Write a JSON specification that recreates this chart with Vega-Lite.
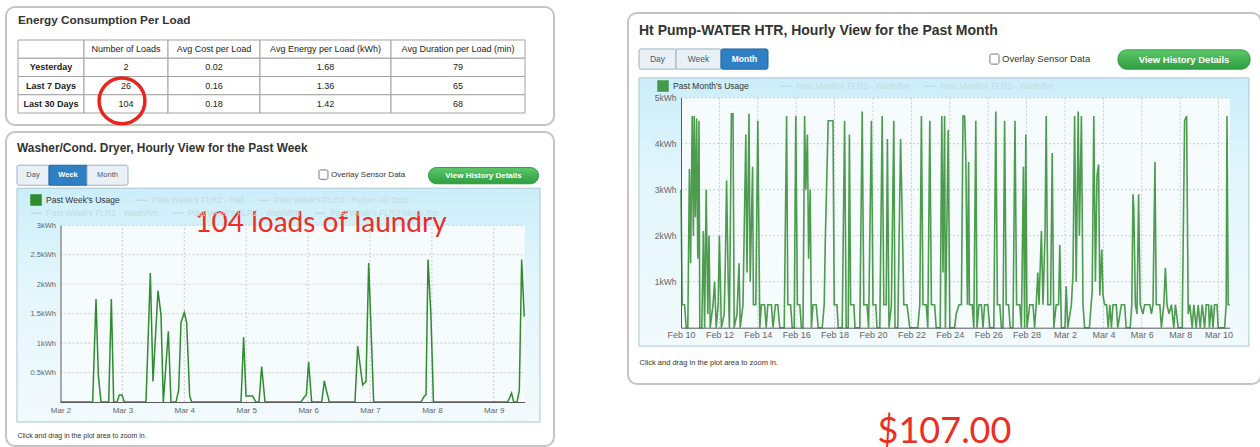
{
  "$schema": "https://vega.github.io/schema/vega-lite/v6.json",
  "padding": {"left": 5, "top": 6, "right": 0, "bottom": 0},
  "background": "white",
  "config": {
    "font": "Liberation Sans",
    "view": {"fill": "white", "stroke": "#c4c4c4", "strokeWidth": 2, "cornerRadius": 9},
    "axis": {"labelFont": "Liberation Sans", "ticks": false, "grid": false, "domainColor": "#5a5a5a", "labelColor": "#666666", "labelFlush": false},
    "legend": {"padding": 0, "labelFont": "Liberation Sans", "labelFontSize": 8.5, "symbolStrokeWidth": 1.5, "symbolSize": 110, "columnPadding": 10, "labelLimit": 300}
  },
  "resolve": {"scale": {"color": "independent", "strokeDash": "independent", "opacity": "independent"}, "legend": {"color": "independent", "strokeDash": "independent", "opacity": "independent"}},
  "spacing": 72,
  "hconcat": [
    {
      "spacing": -6,
      "resolve": {"scale": {"color": "independent", "strokeDash": "independent", "opacity": "independent"}, "legend": {"color": "independent", "strokeDash": "independent", "opacity": "independent"}},
      "vconcat": [
        {
          "width": 548,
          "height": 118,
          "title": {"text": "Energy Consumption Per Load", "anchor": "start", "frame": "group", "offset": -20, "dx": 12, "fontSize": 11.75, "fontWeight": "bold", "color": "#333333"},
          "data": {"values": [
            {"row": "h", "col": "c0", "text": ""},
            {"row": "h", "col": "c1", "text": "Number of Loads"},
            {"row": "h", "col": "c2", "text": "Avg Cost per Load"},
            {"row": "h", "col": "c3", "text": "Avg Energy per Load (kWh)"},
            {"row": "h", "col": "c4", "text": "Avg Duration per Load (min)"},
            {"row": "Yesterday", "col": "c0", "text": "Yesterday"},
            {"row": "Yesterday", "col": "c1", "text": "2"},
            {"row": "Yesterday", "col": "c2", "text": "0.02"},
            {"row": "Yesterday", "col": "c3", "text": "1.68"},
            {"row": "Yesterday", "col": "c4", "text": "79"},
            {"row": "Last 7 Days", "col": "c0", "text": "Last 7 Days"},
            {"row": "Last 7 Days", "col": "c1", "text": "26"},
            {"row": "Last 7 Days", "col": "c2", "text": "0.16"},
            {"row": "Last 7 Days", "col": "c3", "text": "1.36"},
            {"row": "Last 7 Days", "col": "c4", "text": "65"},
            {"row": "Last 30 Days", "col": "c0", "text": "Last 30 Days"},
            {"row": "Last 30 Days", "col": "c1", "text": "104"},
            {"row": "Last 30 Days", "col": "c2", "text": "0.18"},
            {"row": "Last 30 Days", "col": "c3", "text": "1.42"},
            {"row": "Last 30 Days", "col": "c4", "text": "68"}
          ]},
          "encoding": {
            "y": {"field": "row", "type": "nominal", "sort": ["h", "Yesterday", "Last 7 Days", "Last 30 Days"], "scale": {"range": [33, 106], "paddingInner": 0, "paddingOuter": 0}, "axis": null}
          },
          "layer": [
            {
              "transform": [{"filter": "datum.col == 'c0'"}],
              "encoding": {"x": {"field": "col", "type": "nominal", "scale": {"range": [12, 78], "paddingInner": 0, "paddingOuter": 0}, "axis": null}},
              "layer": [
                {"mark": {"type": "rect", "fill": "white", "stroke": "#a3a3a3", "strokeWidth": 1}},
                {"mark": {"type": "text", "fontSize": 9, "fontWeight": "bold", "color": "#222222"}, "encoding": {"text": {"field": "text"}}}
              ]
            },
            {
              "transform": [{"filter": "datum.col == 'c1'"}],
              "encoding": {"x": {"field": "col", "type": "nominal", "scale": {"range": [78, 162], "paddingInner": 0, "paddingOuter": 0}, "axis": null}},
              "layer": [
                {"mark": {"type": "rect", "fill": "white", "stroke": "#a3a3a3", "strokeWidth": 1}},
                {"mark": {"type": "text", "fontSize": 9, "color": "#222222"}, "encoding": {"text": {"field": "text"}}},
                {"transform": [{"filter": "datum.row == 'Last 30 Days'"}], "mark": {"type": "point", "shape": "circle", "size": 2100, "filled": false, "color": "#e8261f", "strokeWidth": 3.5, "opacity": 1, "xOffset": -4, "yOffset": -3}}
              ]
            },
            {
              "transform": [{"filter": "datum.col == 'c2'"}],
              "encoding": {"x": {"field": "col", "type": "nominal", "scale": {"range": [162, 254], "paddingInner": 0, "paddingOuter": 0}, "axis": null}},
              "layer": [
                {"mark": {"type": "rect", "fill": "white", "stroke": "#a3a3a3", "strokeWidth": 1}},
                {"mark": {"type": "text", "fontSize": 9, "color": "#222222"}, "encoding": {"text": {"field": "text"}}}
              ]
            },
            {
              "transform": [{"filter": "datum.col == 'c3'"}],
              "encoding": {"x": {"field": "col", "type": "nominal", "scale": {"range": [254, 385], "paddingInner": 0, "paddingOuter": 0}, "axis": null}},
              "layer": [
                {"mark": {"type": "rect", "fill": "white", "stroke": "#a3a3a3", "strokeWidth": 1}},
                {"mark": {"type": "text", "fontSize": 9, "color": "#222222"}, "encoding": {"text": {"field": "text"}}}
              ]
            },
            {
              "transform": [{"filter": "datum.col == 'c4'"}],
              "encoding": {"x": {"field": "col", "type": "nominal", "scale": {"range": [385, 519], "paddingInner": 0, "paddingOuter": 0}, "axis": null}},
              "layer": [
                {"mark": {"type": "rect", "fill": "white", "stroke": "#a3a3a3", "strokeWidth": 1}},
                {"mark": {"type": "text", "fontSize": 9, "color": "#222222"}, "encoding": {"text": {"field": "text"}}}
              ]
            }
          ],
          "resolve": {"scale": {"x": "independent"}}
        },
        {
          "width": 548,
          "height": 314,
          "title": {"text": "Washer/Cond. Dryer, Hourly View for the Past Week", "anchor": "start", "frame": "group", "offset": -23, "dx": 11, "fontSize": 11.9, "fontWeight": "bold", "color": "#333333"},
          "layer": [
            {
              "data": {"values": [{}]},
              "mark": {"type": "rect", "stroke": "#a9c7d0", "strokeWidth": 1, "fill": {"gradient": "linear", "x1": 0, "y1": 0, "x2": 0, "y2": 1, "stops": [{"offset": 0, "color": "#cbeefa"}, {"offset": 0.4, "color": "#e3f6fc"}, {"offset": 1, "color": "#f2fafd"}]}},
              "encoding": {
                "x": {"datum": {"year": 2011, "month": 3, "date": 1, "hours": 7, "minutes": 8}, "type": "temporal"},
                "x2": {"datum": {"year": 2011, "month": 3, "date": 9, "hours": 17, "minutes": 54}},
                "y": {"datum": 3.63, "type": "quantitative"},
                "y2": {"datum": -0.34}
              }
            },
            {
              "data": {"values": [{}]},
              "mark": {"type": "rect", "fill": "#f6fbfe"},
              "encoding": {
                "x": {"datum": {"year": 2011, "month": 3, "date": 2}, "type": "temporal"},
                "x2": {"datum": {"year": 2011, "month": 3, "date": 9, "hours": 12}},
                "y": {"datum": 0, "type": "quantitative"},
                "y2": {"datum": 3}
              }
            },
            {
              "data": {"values": [{"d": "2011-03-03T00:00"}, {"d": "2011-03-04T00:00"}, {"d": "2011-03-05T00:00"}, {"d": "2011-03-06T00:00"}, {"d": "2011-03-07T00:00"}, {"d": "2011-03-08T00:00"}, {"d": "2011-03-09T00:00"}]},
              "mark": {"type": "rule", "color": "#c9cdd0", "strokeWidth": 1, "strokeDash": [2, 2]},
              "encoding": {
                "x": {"field": "d", "type": "temporal"},
                "y": {"datum": 0, "type": "quantitative"},
                "y2": {"datum": 3}
              }
            },
            {
              "data": {"values": [{"k": 0.5}, {"k": 1}, {"k": 1.5}, {"k": 2}, {"k": 2.5}, {"k": 3}]},
              "mark": {"type": "rule", "color": "#c9cdd0", "strokeWidth": 1, "strokeDash": [2, 2]},
              "encoding": {
                "y": {"field": "k", "type": "quantitative"},
                "x": {"datum": {"year": 2011, "month": 3, "date": 2}, "type": "temporal"},
                "x2": {"datum": {"year": 2011, "month": 3, "date": 9, "hours": 12}}
              }
            },
            {
              "data": {"values": [{}]},
              "mark": {"type": "rect", "fill": "#e9f1f7", "stroke": "#9ab3c5", "strokeWidth": 1, "cornerRadius": 2},
              "encoding": {
                "x": {"datum": {"year": 2011, "month": 3, "date": 1, "hours": 7, "minutes": 8}, "type": "temporal"},
                "x2": {"datum": {"year": 2011, "month": 3, "date": 1, "hours": 19, "minutes": 32}},
                "y": {"datum": 4.02, "type": "quantitative"},
                "y2": {"datum": 3.68}
              }
            },
            {
              "data": {"values": [{}]},
              "mark": {"type": "rect", "fill": "#2f7fc4", "stroke": "#23669f", "strokeWidth": 1},
              "encoding": {
                "x": {"datum": {"year": 2011, "month": 3, "date": 1, "hours": 19, "minutes": 32}, "type": "temporal"},
                "x2": {"datum": {"year": 2011, "month": 3, "date": 2, "hours": 10, "minutes": 16}},
                "y": {"datum": 4.02, "type": "quantitative"},
                "y2": {"datum": 3.68}
              }
            },
            {
              "data": {"values": [{}]},
              "mark": {"type": "rect", "fill": "#e9f1f7", "stroke": "#9ab3c5", "strokeWidth": 1, "cornerRadius": 2},
              "encoding": {
                "x": {"datum": {"year": 2011, "month": 3, "date": 2, "hours": 10, "minutes": 16}, "type": "temporal"},
                "x2": {"datum": {"year": 2011, "month": 3, "date": 3, "hours": 2, "minutes": 10}},
                "y": {"datum": 4.02, "type": "quantitative"},
                "y2": {"datum": 3.68}
              }
            },
            {
              "data": {"values": [{}]},
              "mark": {"type": "text", "fontSize": 7.5, "color": "#4a5a66", "align": "center", "baseline": "middle"},
              "encoding": {"x": {"datum": {"year": 2011, "month": 3, "date": 1, "hours": 13, "minutes": 20}, "type": "temporal"}, "y": {"datum": 3.85, "type": "quantitative"}, "text": {"value": "Day"}}
            },
            {
              "data": {"values": [{}]},
              "mark": {"type": "text", "fontSize": 7.5, "fontWeight": "bold", "color": "white", "align": "center", "baseline": "middle"},
              "encoding": {"x": {"datum": {"year": 2011, "month": 3, "date": 2, "hours": 2, "minutes": 54}, "type": "temporal"}, "y": {"datum": 3.85, "type": "quantitative"}, "text": {"value": "Week"}}
            },
            {
              "data": {"values": [{}]},
              "mark": {"type": "text", "fontSize": 7.5, "color": "#4a5a66", "align": "center", "baseline": "middle"},
              "encoding": {"x": {"datum": {"year": 2011, "month": 3, "date": 2, "hours": 18, "minutes": 13}, "type": "temporal"}, "y": {"datum": 3.85, "type": "quantitative"}, "text": {"value": "Month"}}
            },
            {
              "data": {"values": [{}]},
              "mark": {"type": "rect", "fill": "white", "stroke": "#777777", "strokeWidth": 1, "cornerRadius": 1.5},
              "encoding": {
                "x": {"datum": {"year": 2011, "month": 3, "date": 6, "hours": 4, "minutes": 13}, "type": "temporal"},
                "x2": {"datum": {"year": 2011, "month": 3, "date": 6, "hours": 7, "minutes": 42}},
                "y": {"datum": 3.94, "type": "quantitative"},
                "y2": {"datum": 3.78}
              }
            },
            {
              "data": {"values": [{}]},
              "mark": {"type": "text", "fontSize": 8, "color": "#333333", "align": "left", "baseline": "middle"},
              "encoding": {"x": {"datum": {"year": 2011, "month": 3, "date": 6, "hours": 8, "minutes": 53}, "type": "temporal"}, "y": {"datum": 3.86, "type": "quantitative"}, "text": {"value": "Overlay Sensor Data"}}
            },
            {
              "data": {"values": [{}]},
              "mark": {"type": "rect", "stroke": "#2f9a3e", "strokeWidth": 1, "cornerRadius": 8, "fill": {"gradient": "linear", "x1": 0, "y1": 0, "x2": 0, "y2": 1, "stops": [{"offset": 0, "color": "#5cc86a"}, {"offset": 1, "color": "#2e9e3f"}]}},
              "encoding": {
                "x": {"datum": {"year": 2011, "month": 3, "date": 7, "hours": 22, "minutes": 41}, "type": "temporal"},
                "x2": {"datum": {"year": 2011, "month": 3, "date": 9, "hours": 17, "minutes": 20}},
                "y": {"datum": 3.98, "type": "quantitative"},
                "y2": {"datum": 3.705}
              }
            },
            {
              "data": {"values": [{}]},
              "mark": {"type": "text", "fontSize": 8, "fontWeight": "bold", "color": "white", "align": "center", "baseline": "middle"},
              "encoding": {"x": {"datum": {"year": 2011, "month": 3, "date": 8, "hours": 20}, "type": "temporal"}, "y": {"datum": 3.845, "type": "quantitative"}, "text": {"value": "View History Details"}}
            },
            {
              "data": {"values": [{}]},
              "mark": {"type": "line", "color": "#c5dae0"},
              "encoding": {
                "x": {"datum": {"year": 2011, "month": 3, "date": 2}, "type": "temporal"},
                "y": {"datum": 0, "type": "quantitative"},
                "strokeDash": {
                  "datum": "Past Week's FLR2 - Hall", "type": "nominal",
                  "scale": {"domain": ["Past Week's FLR2 - Hall", "Past Week's FLR3 - Return Air Duct"], "range": [[1, 0], [1, 0]]},
                  "legend": {"orient": "none", "legendX": 130, "legendY": 62, "direction": "horizontal", "columns": 2, "title": null, "labelColor": "#c5dae0", "symbolType": "stroke", "symbolStrokeColor": "#c5dae0"}
                }
              }
            },
            {
              "data": {"values": [{}]},
              "mark": {"type": "line", "color": "#c5dae0"},
              "encoding": {
                "x": {"datum": {"year": 2011, "month": 3, "date": 2}, "type": "temporal"},
                "y": {"datum": 0, "type": "quantitative"},
                "opacity": {
                  "datum": "Past Week's FLR2 - WashRm", "type": "nominal",
                  "scale": {"domain": ["Past Week's FLR2 - WashRm", "Past Week's FLR2 - WashRm ", "Past Week's FLR3-Mech Rm"], "range": [1, 1]},
                  "legend": {"orient": "none", "legendX": 24, "legendY": 75, "direction": "horizontal", "columns": 3, "title": null, "labelColor": "#c5dae0", "symbolType": "stroke", "symbolStrokeColor": "#c5dae0"}
                }
              }
            },
            {
              "data": {"values": [
                {"time": "2011-03-02T00:00", "kWh": 0},
                {"time": "2011-03-02T12:28", "kWh": 0},
                {"time": "2011-03-02T13:46", "kWh": 1.75},
                {"time": "2011-03-02T14:40", "kWh": 0.46},
                {"time": "2011-03-02T15:42", "kWh": 0},
                {"time": "2011-03-02T18:41", "kWh": 0},
                {"time": "2011-03-02T19:43", "kWh": 1.75},
                {"time": "2011-03-02T20:37", "kWh": 0},
                {"time": "2011-03-02T21:54", "kWh": 0},
                {"time": "2011-03-02T22:48", "kWh": 0.12},
                {"time": "2011-03-02T23:50", "kWh": 0.12},
                {"time": "2011-03-03T00:45", "kWh": 0},
                {"time": "2011-03-03T09:09", "kWh": 0},
                {"time": "2011-03-03T10:50", "kWh": 2.19},
                {"time": "2011-03-03T11:52", "kWh": 0.35},
                {"time": "2011-03-03T13:48", "kWh": 1.89},
                {"time": "2011-03-03T14:58", "kWh": 1.48},
                {"time": "2011-03-03T15:52", "kWh": 0},
                {"time": "2011-03-03T17:49", "kWh": 1.2},
                {"time": "2011-03-03T18:50", "kWh": 0},
                {"time": "2011-03-03T20:47", "kWh": 0},
                {"time": "2011-03-03T21:49", "kWh": 0.2},
                {"time": "2011-03-03T22:43", "kWh": 1.35},
                {"time": "2011-03-04T00:00", "kWh": 1.52},
                {"time": "2011-03-04T00:55", "kWh": 1.35},
                {"time": "2011-03-04T02:05", "kWh": 0.1},
                {"time": "2011-03-04T02:52", "kWh": 0},
                {"time": "2011-03-04T21:59", "kWh": 0},
                {"time": "2011-03-04T23:00", "kWh": 1.1},
                {"time": "2011-03-04T23:55", "kWh": 0.1},
                {"time": "2011-03-05T02:30", "kWh": 0.1},
                {"time": "2011-03-05T03:48", "kWh": 0},
                {"time": "2011-03-05T04:58", "kWh": 0},
                {"time": "2011-03-05T06:00", "kWh": 0.6},
                {"time": "2011-03-05T07:17", "kWh": 0},
                {"time": "2011-03-05T21:15", "kWh": 0},
                {"time": "2011-03-05T22:30", "kWh": 0.08},
                {"time": "2011-03-05T23:18", "kWh": 0.12},
                {"time": "2011-03-06T00:12", "kWh": 0.68},
                {"time": "2011-03-06T01:23", "kWh": 0},
                {"time": "2011-03-06T05:16", "kWh": 0},
                {"time": "2011-03-06T06:17", "kWh": 0.36},
                {"time": "2011-03-06T07:04", "kWh": 0.2},
                {"time": "2011-03-06T08:14", "kWh": 0},
                {"time": "2011-03-06T18:11", "kWh": 0},
                {"time": "2011-03-06T19:13", "kWh": 0.95},
                {"time": "2011-03-06T21:09", "kWh": 0.29},
                {"time": "2011-03-06T22:27", "kWh": 0.35},
                {"time": "2011-03-06T23:29", "kWh": 2.36},
                {"time": "2011-03-07T01:25", "kWh": 0},
                {"time": "2011-03-07T19:46", "kWh": 0},
                {"time": "2011-03-07T21:04", "kWh": 0.1},
                {"time": "2011-03-07T21:42", "kWh": 0.12},
                {"time": "2011-03-07T22:30", "kWh": 2.42},
                {"time": "2011-03-07T23:36", "kWh": 1.5},
                {"time": "2011-03-08T00:36", "kWh": 0},
                {"time": "2011-03-09T05:24", "kWh": 0},
                {"time": "2011-03-09T06:54", "kWh": 0.15},
                {"time": "2011-03-09T07:42", "kWh": 0},
                {"time": "2011-03-09T09:00", "kWh": 0},
                {"time": "2011-03-09T09:54", "kWh": 0.2},
                {"time": "2011-03-09T10:48", "kWh": 2.42},
                {"time": "2011-03-09T11:48", "kWh": 1.45}
              ]},
              "mark": {"type": "line", "strokeWidth": 1.5},
              "encoding": {
                "x": {
                  "field": "time", "type": "temporal",
                  "scale": {"domain": [{"year": 2011, "month": 3, "date": 2}, {"year": 2011, "month": 3, "date": 9, "hours": 12}], "range": [54.5, 518.75]},
                  "axis": {
                    "orient": "bottom", "offset": -44, "zindex": 1, "labelFlush": false,
                    "values": [{"year": 2011, "month": 3, "date": 2}, {"year": 2011, "month": 3, "date": 3}, {"year": 2011, "month": 3, "date": 4}, {"year": 2011, "month": 3, "date": 5}, {"year": 2011, "month": 3, "date": 6}, {"year": 2011, "month": 3, "date": 7}, {"year": 2011, "month": 3, "date": 8}, {"year": 2011, "month": 3, "date": 9}],
                    "format": "%b %-d", "labelFontSize": 8, "labelPadding": 4,
                    "title": "Click and drag in the plot area to zoom in.", "titleX": 11, "titleY": 33, "titleAlign": "left", "titleBaseline": "middle", "titleFontSize": 7, "titleFontWeight": "normal", "titleColor": "#333333"
                  }
                },
                "y": {
                  "field": "kWh", "type": "quantitative",
                  "scale": {"domain": [0, 3], "range": [270, 93.3]},
                  "axis": {"orient": "left", "offset": -54.5, "zindex": 1, "values": [0, 0.5, 1, 1.5, 2, 2.5, 3], "format": "~g", "labelExpr": "datum.value == 0 ? '' : datum.label + 'kWh'", "labelFontSize": 7.5, "labelPadding": 5, "title": null}
                },
                "color": {
                  "datum": "Past Week's Usage", "type": "nominal",
                  "scale": {"domain": ["Past Week's Usage"], "range": ["#2e8b2e"]},
                  "legend": {"orient": "none", "legendX": 24, "legendY": 62, "title": null, "labelColor": "#333333", "symbolType": "square", "symbolFillColor": "#2e8b2e", "symbolStrokeColor": "#2e8b2e", "symbolSize": 100}
                }
              }
            },
            {
              "data": {"values": [{}]},
              "mark": {"type": "text", "font": "Lato", "fontSize": 28, "color": "#ee2d24", "align": "center", "baseline": "alphabetic"},
              "encoding": {
                "x": {"datum": {"year": 2011, "month": 3, "date": 6, "hours": 5}, "type": "temporal"},
                "y": {"datum": 2.88, "type": "quantitative"},
                "text": {"value": "104 loads of laundry"}
              }
            }
          ]
        }
      ]
    },
    {
      "spacing": 3,
      "resolve": {"scale": {"color": "independent", "strokeDash": "independent", "opacity": "independent"}, "legend": {"color": "independent", "strokeDash": "independent", "opacity": "independent"}},
      "title": {"text": "$107.00", "orient": "bottom", "anchor": "middle", "font": "Lato", "fontSize": 36, "fontWeight": "normal", "color": "#ee2d24", "offset": 30},
      "vconcat": [
        {
          "width": 633,
          "height": 1,
          "view": {"stroke": "transparent", "fill": "transparent"},
          "data": {"values": [{}]},
          "mark": {"type": "rect", "opacity": 0}
        },
        {
          "width": 633,
          "height": 371,
          "title": {"text": "Ht Pump-WATER HTR, Hourly View for the Past Month", "anchor": "start", "frame": "group", "offset": -25, "dx": 11, "fontSize": 14, "fontWeight": "bold", "color": "#333333"},
          "layer": [
            {
              "data": {"values": [{}]},
              "mark": {"type": "rect", "stroke": "#a9c7d0", "strokeWidth": 1, "fill": {"gradient": "linear", "x1": 0, "y1": 0, "x2": 0, "y2": 1, "stops": [{"offset": 0, "color": "#cbeefa"}, {"offset": 0.4, "color": "#e3f6fc"}, {"offset": 1, "color": "#f2fafd"}]}},
              "encoding": {
                "x": {"datum": {"year": 2011, "month": 2, "date": 7, "hours": 19, "minutes": 26}, "type": "temporal"},
                "x2": {"datum": {"year": 2011, "month": 3, "date": 11, "hours": 13, "minutes": 55}},
                "y": {"datum": 5.43, "type": "quantitative"},
                "y2": {"datum": -0.4}
              }
            },
            {
              "data": {"values": [{}]},
              "mark": {"type": "rect", "fill": "#f6fbfe"},
              "encoding": {
                "x": {"datum": {"year": 2011, "month": 2, "date": 10}, "type": "temporal"},
                "x2": {"datum": {"year": 2011, "month": 3, "date": 10, "hours": 14}},
                "y": {"datum": 0, "type": "quantitative"},
                "y2": {"datum": 5}
              }
            },
            {
              "data": {"values": [{"d": "2011-02-12T00:00"}, {"d": "2011-02-14T00:00"}, {"d": "2011-02-16T00:00"}, {"d": "2011-02-18T00:00"}, {"d": "2011-02-20T00:00"}, {"d": "2011-02-22T00:00"}, {"d": "2011-02-24T00:00"}, {"d": "2011-02-26T00:00"}, {"d": "2011-02-28T00:00"}, {"d": "2011-03-02T00:00"}, {"d": "2011-03-04T00:00"}, {"d": "2011-03-06T00:00"}, {"d": "2011-03-08T00:00"}, {"d": "2011-03-10T00:00"}]},
              "mark": {"type": "rule", "color": "#c9cdd0", "strokeWidth": 1, "strokeDash": [2, 2]},
              "encoding": {
                "x": {"field": "d", "type": "temporal"},
                "y": {"datum": 0, "type": "quantitative"},
                "y2": {"datum": 5}
              }
            },
            {
              "data": {"values": [{"k": 1}, {"k": 2}, {"k": 3}, {"k": 4}, {"k": 5}]},
              "mark": {"type": "rule", "color": "#c9cdd0", "strokeWidth": 1, "strokeDash": [2, 2]},
              "encoding": {
                "y": {"field": "k", "type": "quantitative"},
                "x": {"datum": {"year": 2011, "month": 2, "date": 10}, "type": "temporal"},
                "x2": {"datum": {"year": 2011, "month": 3, "date": 10, "hours": 14}}
              }
            },
            {
              "data": {"values": [{}]},
              "mark": {"type": "rect", "fill": "#e9f1f7", "stroke": "#9ab3c5", "strokeWidth": 1, "cornerRadius": 2},
              "encoding": {
                "x": {"datum": {"year": 2011, "month": 2, "date": 7, "hours": 19, "minutes": 30}, "type": "temporal"},
                "x2": {"datum": {"year": 2011, "month": 2, "date": 9, "hours": 17, "minutes": 45}},
                "y": {"datum": 6.06, "type": "quantitative"},
                "y2": {"datum": 5.62}
              }
            },
            {
              "data": {"values": [{}]},
              "mark": {"type": "rect", "fill": "#e9f1f7", "stroke": "#9ab3c5", "strokeWidth": 1},
              "encoding": {
                "x": {"datum": {"year": 2011, "month": 2, "date": 9, "hours": 17, "minutes": 45}, "type": "temporal"},
                "x2": {"datum": {"year": 2011, "month": 2, "date": 12, "hours": 2}},
                "y": {"datum": 6.06, "type": "quantitative"},
                "y2": {"datum": 5.62}
              }
            },
            {
              "data": {"values": [{}]},
              "mark": {"type": "rect", "fill": "#2f7fc4", "stroke": "#23669f", "strokeWidth": 1, "cornerRadius": 2},
              "encoding": {
                "x": {"datum": {"year": 2011, "month": 2, "date": 12, "hours": 2}, "type": "temporal"},
                "x2": {"datum": {"year": 2011, "month": 2, "date": 14, "hours": 12, "minutes": 45}},
                "y": {"datum": 6.06, "type": "quantitative"},
                "y2": {"datum": 5.62}
              }
            },
            {
              "data": {"values": [{}]},
              "mark": {"type": "text", "fontSize": 8.5, "color": "#4a5a66", "align": "center", "baseline": "middle"},
              "encoding": {"x": {"datum": {"year": 2011, "month": 2, "date": 8, "hours": 18, "minutes": 40}, "type": "temporal"}, "y": {"datum": 5.84, "type": "quantitative"}, "text": {"value": "Day"}}
            },
            {
              "data": {"values": [{}]},
              "mark": {"type": "text", "fontSize": 8.5, "color": "#4a5a66", "align": "center", "baseline": "middle"},
              "encoding": {"x": {"datum": {"year": 2011, "month": 2, "date": 10, "hours": 21, "minutes": 50}, "type": "temporal"}, "y": {"datum": 5.84, "type": "quantitative"}, "text": {"value": "Week"}}
            },
            {
              "data": {"values": [{}]},
              "mark": {"type": "text", "fontSize": 8.5, "fontWeight": "bold", "color": "white", "align": "center", "baseline": "middle"},
              "encoding": {"x": {"datum": {"year": 2011, "month": 2, "date": 13, "hours": 7, "minutes": 25}, "type": "temporal"}, "y": {"datum": 5.84, "type": "quantitative"}, "text": {"value": "Month"}}
            },
            {
              "data": {"values": [{}]},
              "mark": {"type": "rect", "fill": "white", "stroke": "#777777", "strokeWidth": 1, "cornerRadius": 1.5},
              "encoding": {
                "x": {"datum": {"year": 2011, "month": 2, "date": 26, "hours": 2, "minutes": 10}, "type": "temporal"},
                "x2": {"datum": {"year": 2011, "month": 2, "date": 26, "hours": 13, "minutes": 30}},
                "y": {"datum": 5.95, "type": "quantitative"},
                "y2": {"datum": 5.73}
              }
            },
            {
              "data": {"values": [{}]},
              "mark": {"type": "text", "fontSize": 9.5, "color": "#333333", "align": "left", "baseline": "middle"},
              "encoding": {"x": {"datum": {"year": 2011, "month": 2, "date": 26, "hours": 17, "minutes": 15}, "type": "temporal"}, "y": {"datum": 5.84, "type": "quantitative"}, "text": {"value": "Overlay Sensor Data"}}
            },
            {
              "data": {"values": [{}]},
              "mark": {"type": "rect", "stroke": "#2f9a3e", "strokeWidth": 1, "cornerRadius": 9, "fill": {"gradient": "linear", "x1": 0, "y1": 0, "x2": 0, "y2": 1, "stops": [{"offset": 0, "color": "#5cc86a"}, {"offset": 1, "color": "#2e9e3f"}]}},
              "encoding": {
                "x": {"datum": {"year": 2011, "month": 3, "date": 4, "hours": 18, "minutes": 15}, "type": "temporal"},
                "x2": {"datum": {"year": 2011, "month": 3, "date": 11, "hours": 15, "minutes": 20}},
                "y": {"datum": 6.04, "type": "quantitative"},
                "y2": {"datum": 5.62}
              }
            },
            {
              "data": {"values": [{}]},
              "mark": {"type": "text", "fontSize": 9.5, "fontWeight": "bold", "color": "white", "align": "center", "baseline": "middle"},
              "encoding": {"x": {"datum": {"year": 2011, "month": 3, "date": 8, "hours": 4, "minutes": 50}, "type": "temporal"}, "y": {"datum": 5.83, "type": "quantitative"}, "text": {"value": "View History Details"}}
            },
            {
              "data": {"values": [{}]},
              "mark": {"type": "line", "color": "#c5dae0"},
              "encoding": {
                "x": {"datum": {"year": 2011, "month": 2, "date": 10}, "type": "temporal"},
                "y": {"datum": 0, "type": "quantitative"},
                "strokeDash": {
                  "datum": "Past Month's FLR2 - WashRm", "type": "nominal",
                  "scale": {"domain": ["Past Month's FLR2 - WashRm", "Past Month's FLR2 - WashRm "], "range": [[1, 0], [1, 0]]},
                  "legend": {"orient": "none", "legendX": 152, "legendY": 67, "direction": "horizontal", "columns": 2, "title": null, "labelColor": "#c5dae0", "symbolType": "stroke", "symbolStrokeColor": "#c5dae0"}
                }
              }
            },
            {
              "data": {"values": [
                {"t": "2011-02-10T00:00", "v": 3.0}, {"t": "2011-02-10T01:30", "v": 0.5}, {"t": "2011-02-10T04:30", "v": 0.5}, {"t": "2011-02-10T06:30", "v": 0}, {"t": "2011-02-10T08:30", "v": 0}, {"t": "2011-02-10T10:30", "v": 3.45}, {"t": "2011-02-10T12:00", "v": 1.4}, {"t": "2011-02-10T14:00", "v": 4.6}, {"t": "2011-02-10T15:30", "v": 2.0}, {"t": "2011-02-10T16:30", "v": 4.6}, {"t": "2011-02-10T18:00", "v": 2.4}, {"t": "2011-02-10T19:30", "v": 4.55}, {"t": "2011-02-10T21:00", "v": 1.5}, {"t": "2011-02-10T22:30", "v": 4.5}, {"t": "2011-02-10T23:30", "v": 0},
                {"t": "2011-02-11T02:00", "v": 0}, {"t": "2011-02-11T04:00", "v": 2.1}, {"t": "2011-02-11T05:30", "v": 0}, {"t": "2011-02-11T07:30", "v": 3.0}, {"t": "2011-02-11T09:30", "v": 0.3}, {"t": "2011-02-11T11:00", "v": 2.0}, {"t": "2011-02-11T12:30", "v": 0}, {"t": "2011-02-11T16:00", "v": 0.5}, {"t": "2011-02-11T18:00", "v": 1.0}, {"t": "2011-02-11T20:00", "v": 0}, {"t": "2011-02-11T22:30", "v": 0.5},
                {"t": "2011-02-12T00:00", "v": 2.0}, {"t": "2011-02-12T02:30", "v": 0}, {"t": "2011-02-12T06:00", "v": 0.3}, {"t": "2011-02-12T07:30", "v": 1.5}, {"t": "2011-02-12T09:00", "v": 3.2}, {"t": "2011-02-12T11:00", "v": 1.0}, {"t": "2011-02-12T12:30", "v": 0}, {"t": "2011-02-12T15:00", "v": 4.65}, {"t": "2011-02-12T17:00", "v": 4.65}, {"t": "2011-02-12T18:30", "v": 0}, {"t": "2011-02-12T22:00", "v": 0.3},
                {"t": "2011-02-13T00:30", "v": 1.4}, {"t": "2011-02-13T02:00", "v": 0}, {"t": "2011-02-13T05:30", "v": 0.5}, {"t": "2011-02-13T09:00", "v": 4.2}, {"t": "2011-02-13T10:30", "v": 1.2}, {"t": "2011-02-13T13:00", "v": 4.65}, {"t": "2011-02-13T14:30", "v": 1.0}, {"t": "2011-02-13T17:30", "v": 3.5}, {"t": "2011-02-13T18:30", "v": 0.5}, {"t": "2011-02-13T21:30", "v": 0.5},
                {"t": "2011-02-14T00:00", "v": 4.5}, {"t": "2011-02-14T02:30", "v": 0}, {"t": "2011-02-14T04:30", "v": 0.5}, {"t": "2011-02-14T08:30", "v": 0.5}, {"t": "2011-02-14T10:30", "v": 0}, {"t": "2011-02-14T12:30", "v": 0.5}, {"t": "2011-02-14T17:00", "v": 0.5}, {"t": "2011-02-14T19:00", "v": 0}, {"t": "2011-02-14T22:00", "v": 0.5},
                {"t": "2011-02-15T01:00", "v": 0.5}, {"t": "2011-02-15T03:30", "v": 0}, {"t": "2011-02-15T09:00", "v": 0}, {"t": "2011-02-15T12:00", "v": 4.6}, {"t": "2011-02-15T13:30", "v": 0.5}, {"t": "2011-02-15T17:00", "v": 0.5}, {"t": "2011-02-15T19:00", "v": 0}, {"t": "2011-02-15T21:30", "v": 0}, {"t": "2011-02-15T23:30", "v": 4.6},
                {"t": "2011-02-16T01:30", "v": 0.5}, {"t": "2011-02-16T04:30", "v": 0.5}, {"t": "2011-02-16T06:30", "v": 0}, {"t": "2011-02-16T08:30", "v": 0}, {"t": "2011-02-16T10:30", "v": 4.6}, {"t": "2011-02-16T12:00", "v": 3.0}, {"t": "2011-02-16T14:00", "v": 4.2}, {"t": "2011-02-16T15:30", "v": 1.5}, {"t": "2011-02-16T17:30", "v": 3.0}, {"t": "2011-02-16T19:00", "v": 0}, {"t": "2011-02-16T21:00", "v": 0.5},
                {"t": "2011-02-17T01:00", "v": 0.5}, {"t": "2011-02-17T03:30", "v": 0}, {"t": "2011-02-17T08:30", "v": 0}, {"t": "2011-02-17T11:00", "v": 0.5}, {"t": "2011-02-17T12:30", "v": 2.0}, {"t": "2011-02-17T16:00", "v": 4.5}, {"t": "2011-02-17T22:00", "v": 4.5}, {"t": "2011-02-17T23:30", "v": 0.5},
                {"t": "2011-02-18T03:00", "v": 0.5}, {"t": "2011-02-18T04:30", "v": 0}, {"t": "2011-02-18T09:30", "v": 0}, {"t": "2011-02-18T12:30", "v": 4.5}, {"t": "2011-02-18T14:30", "v": 0}, {"t": "2011-02-18T17:00", "v": 0}, {"t": "2011-02-18T18:30", "v": 4.2}, {"t": "2011-02-18T20:00", "v": 0.5},
                {"t": "2011-02-19T00:00", "v": 0.5}, {"t": "2011-02-19T01:30", "v": 0}, {"t": "2011-02-19T07:30", "v": 0}, {"t": "2011-02-19T10:30", "v": 4.7}, {"t": "2011-02-19T12:30", "v": 0.5}, {"t": "2011-02-19T16:30", "v": 0.5}, {"t": "2011-02-19T18:30", "v": 0}, {"t": "2011-02-19T22:00", "v": 4.5},
                {"t": "2011-02-20T00:00", "v": 0.5}, {"t": "2011-02-20T03:30", "v": 0.5}, {"t": "2011-02-20T05:00", "v": 0}, {"t": "2011-02-20T08:30", "v": 0}, {"t": "2011-02-20T11:30", "v": 4.6}, {"t": "2011-02-20T13:30", "v": 0.5}, {"t": "2011-02-20T16:30", "v": 0.5}, {"t": "2011-02-20T18:00", "v": 4.1}, {"t": "2011-02-20T20:00", "v": 0}, {"t": "2011-02-20T23:00", "v": 0.5},
                {"t": "2011-02-21T02:00", "v": 4.5}, {"t": "2011-02-21T03:30", "v": 0}, {"t": "2011-02-21T07:00", "v": 0}, {"t": "2011-02-21T10:30", "v": 4.1}, {"t": "2011-02-21T12:30", "v": 2.4}, {"t": "2011-02-21T14:30", "v": 0.5}, {"t": "2011-02-21T18:30", "v": 0.5}, {"t": "2011-02-21T22:00", "v": 0},
                {"t": "2011-02-22T08:00", "v": 0}, {"t": "2011-02-22T10:30", "v": 0.5}, {"t": "2011-02-22T12:30", "v": 4.6}, {"t": "2011-02-22T14:30", "v": 0.5}, {"t": "2011-02-22T18:30", "v": 0.5}, {"t": "2011-02-22T20:30", "v": 0}, {"t": "2011-02-22T23:00", "v": 4.5},
                {"t": "2011-02-23T01:00", "v": 0.5}, {"t": "2011-02-23T05:00", "v": 0.5}, {"t": "2011-02-23T07:00", "v": 0}, {"t": "2011-02-23T12:00", "v": 0}, {"t": "2011-02-23T14:00", "v": 4.6}, {"t": "2011-02-23T15:30", "v": 1.2}, {"t": "2011-02-23T17:30", "v": 4.6}, {"t": "2011-02-23T18:30", "v": 0}, {"t": "2011-02-23T22:00", "v": 4.3},
                {"t": "2011-02-24T00:00", "v": 0}, {"t": "2011-02-24T06:00", "v": 0}, {"t": "2011-02-24T08:00", "v": 0.3}, {"t": "2011-02-24T11:30", "v": 0.5}, {"t": "2011-02-24T14:30", "v": 0.5}, {"t": "2011-02-24T16:30", "v": 4.6}, {"t": "2011-02-24T18:30", "v": 4.6}, {"t": "2011-02-24T20:00", "v": 3.7}, {"t": "2011-02-24T22:00", "v": 0.5}, {"t": "2011-02-24T23:30", "v": 3.6},
                {"t": "2011-02-25T00:30", "v": 0.5}, {"t": "2011-02-25T04:00", "v": 0.5}, {"t": "2011-02-25T06:00", "v": 0}, {"t": "2011-02-25T08:30", "v": 4.5}, {"t": "2011-02-25T10:00", "v": 0}, {"t": "2011-02-25T12:30", "v": 0.5}, {"t": "2011-02-25T15:30", "v": 0.5}, {"t": "2011-02-25T17:30", "v": 0}, {"t": "2011-02-25T19:30", "v": 0.5}, {"t": "2011-02-25T23:30", "v": 0.5},
                {"t": "2011-02-26T02:00", "v": 0}, {"t": "2011-02-26T07:00", "v": 0}, {"t": "2011-02-26T09:30", "v": 4.7}, {"t": "2011-02-26T11:30", "v": 0.5}, {"t": "2011-02-26T14:30", "v": 0.5}, {"t": "2011-02-26T16:30", "v": 0}, {"t": "2011-02-26T18:30", "v": 0}, {"t": "2011-02-26T20:30", "v": 4.5}, {"t": "2011-02-26T22:30", "v": 0.5},
                {"t": "2011-02-27T01:30", "v": 0.5}, {"t": "2011-02-27T03:30", "v": 0}, {"t": "2011-02-27T07:00", "v": 0}, {"t": "2011-02-27T09:30", "v": 4.5}, {"t": "2011-02-27T11:30", "v": 0.5}, {"t": "2011-02-27T15:30", "v": 0.5}, {"t": "2011-02-27T17:30", "v": 0}, {"t": "2011-02-27T20:00", "v": 3.5}, {"t": "2011-02-27T21:30", "v": 0}, {"t": "2011-02-27T23:00", "v": 4.2},
                {"t": "2011-02-28T00:30", "v": 0}, {"t": "2011-02-28T04:00", "v": 0.5}, {"t": "2011-02-28T08:00", "v": 0.5}, {"t": "2011-02-28T10:00", "v": 0}, {"t": "2011-02-28T12:00", "v": 0.5}, {"t": "2011-02-28T14:00", "v": 1.2}, {"t": "2011-02-28T15:30", "v": 0.5}, {"t": "2011-02-28T18:30", "v": 2.1}, {"t": "2011-02-28T20:30", "v": 0.5}, {"t": "2011-02-28T23:00", "v": 2.0},
                {"t": "2011-03-01T00:30", "v": 4.6}, {"t": "2011-03-01T02:30", "v": 0.5}, {"t": "2011-03-01T06:00", "v": 0.5}, {"t": "2011-03-01T08:00", "v": 3.8}, {"t": "2011-03-01T10:00", "v": 0}, {"t": "2011-03-01T13:00", "v": 0.5}, {"t": "2011-03-01T16:00", "v": 0.5}, {"t": "2011-03-01T17:30", "v": 1.8}, {"t": "2011-03-01T19:30", "v": 0},
                {"t": "2011-03-02T00:00", "v": 0}, {"t": "2011-03-02T01:30", "v": 0.9}, {"t": "2011-03-02T03:30", "v": 0}, {"t": "2011-03-02T08:00", "v": 0.5}, {"t": "2011-03-02T10:00", "v": 1.2}, {"t": "2011-03-02T12:00", "v": 4.6}, {"t": "2011-03-02T14:00", "v": 1.0}, {"t": "2011-03-02T16:30", "v": 4.7}, {"t": "2011-03-02T18:00", "v": 2.0}, {"t": "2011-03-02T20:30", "v": 4.6}, {"t": "2011-03-02T22:30", "v": 0.5},
                {"t": "2011-03-03T00:30", "v": 0}, {"t": "2011-03-03T06:30", "v": 0}, {"t": "2011-03-03T10:00", "v": 0.8}, {"t": "2011-03-03T12:00", "v": 4.6}, {"t": "2011-03-03T14:00", "v": 1.0}, {"t": "2011-03-03T16:00", "v": 3.3}, {"t": "2011-03-03T18:00", "v": 3.55}, {"t": "2011-03-03T19:30", "v": 0.7}, {"t": "2011-03-03T22:00", "v": 1.7}, {"t": "2011-03-03T23:30", "v": 0.7},
                {"t": "2011-03-04T01:30", "v": 0.5}, {"t": "2011-03-04T04:00", "v": 0.5}, {"t": "2011-03-04T06:00", "v": 0}, {"t": "2011-03-04T08:00", "v": 0.5}, {"t": "2011-03-04T10:00", "v": 0}, {"t": "2011-03-04T12:00", "v": 0.5}, {"t": "2011-03-04T16:00", "v": 0.5}, {"t": "2011-03-04T18:00", "v": 0}, {"t": "2011-03-04T22:30", "v": 0.5},
                {"t": "2011-03-05T02:30", "v": 0.5}, {"t": "2011-03-05T04:30", "v": 0}, {"t": "2011-03-05T09:30", "v": 0}, {"t": "2011-03-05T11:30", "v": 0.5}, {"t": "2011-03-05T13:00", "v": 2.9}, {"t": "2011-03-05T14:00", "v": 2.6}, {"t": "2011-03-05T16:00", "v": 0.5}, {"t": "2011-03-05T18:00", "v": 0.3}, {"t": "2011-03-05T20:00", "v": 2.9}, {"t": "2011-03-05T22:00", "v": 0.5},
                {"t": "2011-03-06T01:30", "v": 0.3}, {"t": "2011-03-06T03:30", "v": 0.5}, {"t": "2011-03-06T10:00", "v": 0.5}, {"t": "2011-03-06T12:00", "v": 0.3}, {"t": "2011-03-06T14:00", "v": 0.5}, {"t": "2011-03-06T16:30", "v": 3.6}, {"t": "2011-03-06T18:00", "v": 0.5}, {"t": "2011-03-06T22:30", "v": 0.5},
                {"t": "2011-03-07T00:30", "v": 0}, {"t": "2011-03-07T03:30", "v": 0.5}, {"t": "2011-03-07T05:30", "v": 1.3}, {"t": "2011-03-07T07:30", "v": 0.5}, {"t": "2011-03-07T10:00", "v": 0.3}, {"t": "2011-03-07T13:00", "v": 0.5}, {"t": "2011-03-07T16:00", "v": 0}, {"t": "2011-03-07T18:00", "v": 0.5}, {"t": "2011-03-07T21:30", "v": 0},
                {"t": "2011-03-08T02:30", "v": 0}, {"t": "2011-03-08T05:30", "v": 4.5}, {"t": "2011-03-08T08:00", "v": 4.6}, {"t": "2011-03-08T10:00", "v": 0.3}, {"t": "2011-03-08T12:00", "v": 0.5}, {"t": "2011-03-08T15:00", "v": 0}, {"t": "2011-03-08T17:00", "v": 0.5}, {"t": "2011-03-08T20:00", "v": 0}, {"t": "2011-03-08T22:30", "v": 0.5},
                {"t": "2011-03-09T01:00", "v": 0}, {"t": "2011-03-09T03:30", "v": 0.5}, {"t": "2011-03-09T06:30", "v": 0}, {"t": "2011-03-09T08:30", "v": 0.5}, {"t": "2011-03-09T11:30", "v": 0.5}, {"t": "2011-03-09T12:30", "v": 0}, {"t": "2011-03-09T15:00", "v": 0.5}, {"t": "2011-03-09T17:00", "v": 0}, {"t": "2011-03-09T19:00", "v": 0.5}, {"t": "2011-03-09T22:00", "v": 0.5}, {"t": "2011-03-09T23:30", "v": 0},
                {"t": "2011-03-10T07:30", "v": 0}, {"t": "2011-03-10T09:30", "v": 0.5}, {"t": "2011-03-10T10:30", "v": 4.6}, {"t": "2011-03-10T12:00", "v": 0.5}, {"t": "2011-03-10T14:00", "v": 0.5}
              ]},
              "mark": {"type": "line", "strokeWidth": 1.6, "opacity": 0.85},
              "encoding": {
                "x": {
                  "field": "t", "type": "temporal",
                  "scale": {"domain": [{"year": 2011, "month": 2, "date": 10}, {"year": 2011, "month": 3, "date": 10, "hours": 14}], "range": [53, 601.8]},
                  "axis": {
                    "orient": "bottom", "offset": -56.3, "zindex": 1, "labelOverlap": false, "labelFlush": false,
                    "values": [{"year": 2011, "month": 2, "date": 10}, {"year": 2011, "month": 2, "date": 12}, {"year": 2011, "month": 2, "date": 14}, {"year": 2011, "month": 2, "date": 16}, {"year": 2011, "month": 2, "date": 18}, {"year": 2011, "month": 2, "date": 20}, {"year": 2011, "month": 2, "date": 22}, {"year": 2011, "month": 2, "date": 24}, {"year": 2011, "month": 2, "date": 26}, {"year": 2011, "month": 2, "date": 28}, {"year": 2011, "month": 3, "date": 2}, {"year": 2011, "month": 3, "date": 4}, {"year": 2011, "month": 3, "date": 6}, {"year": 2011, "month": 3, "date": 8}, {"year": 2011, "month": 3, "date": 10}],
                    "format": "%b %-d", "labelFontSize": 9, "labelPadding": 3,
                    "title": "Click and drag in the plot area to zoom in.", "titleX": 11, "titleY": 34.3, "titleAlign": "left", "titleBaseline": "middle", "titleFontSize": 7.5, "titleFontWeight": "normal", "titleColor": "#333333"
                  }
                },
                "y": {
                  "field": "v", "type": "quantitative",
                  "scale": {"domain": [0, 5], "range": [314.7, 84.7]},
                  "axis": {"orient": "left", "offset": -53, "zindex": 1, "values": [0, 1, 2, 3, 4, 5], "format": "~g", "labelExpr": "datum.value == 0 ? '' : datum.label + 'kWh'", "labelFontSize": 8.5, "labelPadding": 5, "title": null}
                },
                "color": {
                  "datum": "Past Month's Usage", "type": "nominal",
                  "scale": {"domain": ["Past Month's Usage"], "range": ["#2e8b2e"]},
                  "legend": {"orient": "none", "legendX": 29, "legendY": 67, "title": null, "labelColor": "#333333", "symbolType": "square", "symbolFillColor": "#2e8b2e", "symbolStrokeColor": "#2e8b2e", "symbolSize": 100}
                }
              }
            }
          ]
        }
      ]
    }
  ]
}
